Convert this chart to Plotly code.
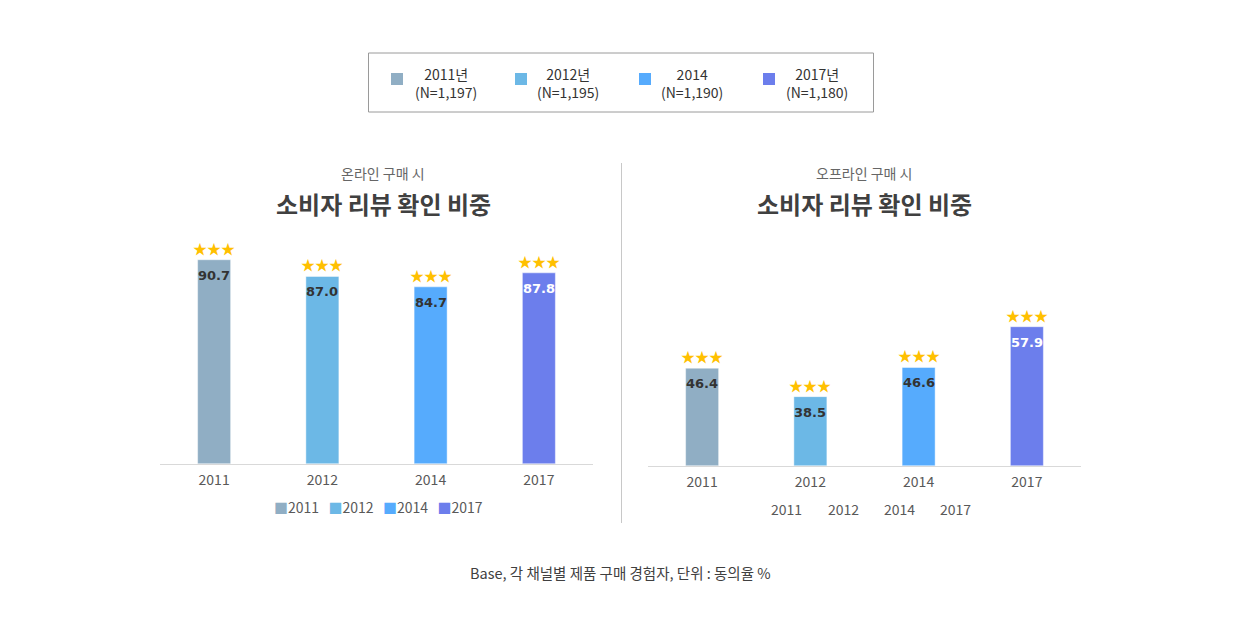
import plotly.graph_objects as go

# ---------------- data ----------------
years = ["2011", "2012", "2014", "2017"]
legend_labels = ["2011년<br>(N=1,197)", "2012년<br>(N=1,195)", "2014<br>(N=1,190)", "2017년<br>(N=1,180)"]
online_values = [90.7, 87.0, 84.7, 87.8]
offline_values = [46.4, 38.5, 46.6, 57.9]
colors = ["#90AEC4", "#6CB8E6", "#56ABFD", "#6C7EEC"]
label_colors = ["#333333", "#333333", "#333333", "#FFFFFF"]
stars = "★★★"
online_subtitle = "온라인 구매 시"
offline_subtitle = "오프라인 구매 시"
main_title = "소비자 리뷰 확인 비중"
footer = "Base, 각 채널별 제품 구매 경험자, 단위 : 동의율 %"

W, H = 1240, 628
OX, OY = 8, 8  # page offset of the plot div
FONT = "Noto Sans CJK KR"


def px(x):
    return (x - OX) / W


def py(y):
    return 1 - (y - OY) / H


def paper_text(x, y, text, size, color, family=FONT):
    return dict(x=px(x), y=py(y), xref="paper", yref="paper", text=text, showarrow=False,
                xanchor="center", yanchor="middle", font=dict(family=family, size=size, color=color))


fig = go.Figure()

for xa, ya, vals in (("x", "y", online_values), ("x2", "y2", offline_values)):
    fig.add_trace(go.Bar(x=years, y=vals,
                         marker=dict(color=colors, line=dict(color="rgba(255,255,255,0.45)", width=1)),
                         xaxis=xa, yaxis=ya, showlegend=False, hoverinfo="x+y"))

annotations = []
for xa, ya, vals in (("x", "y", online_values), ("x2", "y2", offline_values)):
    for i, v in enumerate(vals):
        annotations.append(dict(x=i, y=v, xref=xa, yref=ya, text=stars, showarrow=False,
                                xanchor="center", yanchor="bottom", yshift=0,
                                font=dict(family=FONT, size=14, color="#FFC000")))
        annotations.append(dict(x=i, y=v, xref=xa, yref=ya, text="<b>%.1f</b>" % v, showarrow=False,
                                xanchor="center", yanchor="top", yshift=-6,
                                font=dict(family="DejaVu Sans", size=13, color=label_colors[i])))

# titles
for cx, sub in ((383, online_subtitle), (864, offline_subtitle)):
    annotations.append(paper_text(cx, 173, sub, 14, "#666666"))
    annotations.append(paper_text(cx, 203, "<b>%s</b>" % main_title, 24, "#404040"))

# top legend
shapes = [dict(type="rect", xref="paper", yref="paper", x0=px(368.5), x1=px(873.5), y0=py(53), y1=py(112),
               line=dict(color="#9a9a9a", width=1), fillcolor="white", layer="below")]
sq_x = [397, 521, 645, 769]
txt_x = [446, 568, 692, 817]
for i in range(4):
    shapes.append(dict(type="rect", xref="paper", yref="paper", x0=px(sq_x[i] - 6), x1=px(sq_x[i] + 6),
                       y0=py(73), y1=py(85), line=dict(width=0), fillcolor=colors[i]))
    annotations.append(paper_text(txt_x[i], 83, legend_labels[i], 14, "#333333"))

# divider
shapes.append(dict(type="line", xref="paper", yref="paper", x0=px(621.5), x1=px(621.5), y0=py(163), y1=py(523),
                   line=dict(color="#c8c8c8", width=1)))

# bottom legends
left_leg = "&nbsp;&nbsp;&nbsp;".join('<span style="color:%s">■</span>%s' % (c, y) for c, y in zip(colors, years))
annotations.append(paper_text(378, 507, left_leg, 14, "#595959"))
for i, yr in enumerate(years):
    annotations.append(paper_text(787 + 56 * i, 509, yr, 14, "#595959"))

annotations.append(paper_text(620, 572, footer, 14.5, "#404040"))

axis_common = dict(type="category", range=[-0.5, 3.5], showline=True, linecolor="#d9d9d9", linewidth=1,
                   ticks="", showgrid=False, zeroline=False, automargin=False, ticklabelstandoff=4,
                   tickfont=dict(family=FONT, size=14, color="#595959"), fixedrange=True)

fig.update_layout(
    width=W, height=H, autosize=False,
    margin=dict(l=0, r=0, t=0, b=0, pad=0, autoexpand=False),
    paper_bgcolor="white", plot_bgcolor="white",
    bargap=0.695,
    xaxis=dict(domain=[px(160), px(593)], anchor="y", **axis_common),
    xaxis2=dict(domain=[px(648), px(1081)], anchor="y2", **axis_common),
    yaxis=dict(domain=[py(463.5), py(235)], range=[45.6, 45.6 + (463.5 - 235) / 4.518], visible=False,
               fixedrange=True, automargin=False),
    yaxis2=dict(domain=[py(465.5), py(300)], range=[19.4, 19.4 + (465.5 - 300) / 3.605], visible=False,
                fixedrange=True, automargin=False),
    annotations=annotations,
    shapes=shapes,
    showlegend=False,
)

fig.write_html("out.html")
